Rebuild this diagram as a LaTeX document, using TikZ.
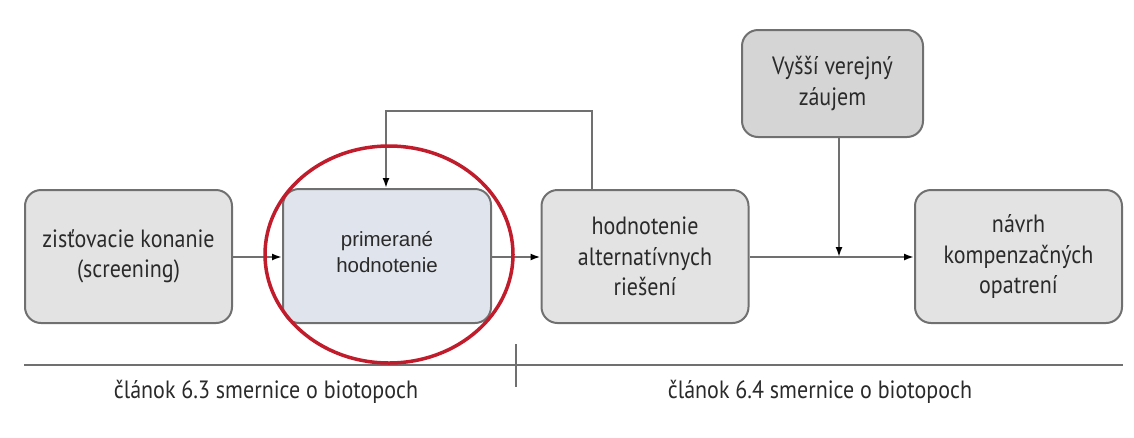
\documentclass[tikz,border=0pt]{standalone}
\usepackage{fontspec}
\setmainfont{PT Sans}[FakeStretch=0.88]
\newfontfamily\arialf{Liberation Sans}
\usetikzlibrary{arrows.meta}
\definecolor{boxfill}{HTML}{E3E3E3}
\definecolor{boxfillb}{HTML}{E0E4EC}
\definecolor{boxfilld}{HTML}{D5D5D5}
\definecolor{edge}{HTML}{707070}
\definecolor{txt}{HTML}{2A2A2A}
\definecolor{ringred}{HTML}{C01C2C}
\tikzset{
  proc/.style={draw=edge, line width=2pt, rounded corners=16pt, fill=boxfill,
    minimum width=207pt, minimum height=133pt, align=center, text=txt,
    font=\fontsize{25}{30.5}\selectfont, inner sep=0pt},
  conn/.style={draw=edge, line width=1.8pt},
  arr/.style={conn, -{Latex[length=10pt,width=7pt,fill=black,color=black]}},
  note/.style={text=txt, font=\fontsize{25}{26}\selectfont, inner sep=0pt}
}
\begin{document}
\begin{tikzpicture}[x=1pt,y=-1pt]
\useasboundingbox (0,0) rectangle (1134,437);
\node[proc] (b1) at (128.5,256.5) {zisťovacie konanie\\(screening)};
\node[proc, fill=boxfillb, minimum width=208pt, minimum height=134pt,
      label={[name=b2t, align=center, text=txt, inner sep=0pt, yshift=4pt,
              font=\arialf\fontsize{20.5}{26}\selectfont]center:primerané\\hodnotenie}] (b2) at (387,256) {};
\node[proc] (b3) at (645,256.5) {hodnotenie\\alternatívnych\\riešení};
\node[proc, fill=boxfilld, minimum width=181pt, minimum height=107pt] (b4) at (832.5,83.5) {Vyšší verejný\\záujem};
\node[proc] (b5) at (1018.5,256.5) {návrh\\kompenzačných\\opatrení};
\coordinate (j) at (839,257);
\coordinate (fbR) at (592,111);
\coordinate (fbL) at (386,111);
\draw[arr] (b1.east |- 0,257) -- (b2.west |- 0,257);
\draw[arr] (b2.east |- 0,257) -- (b3.west |- 0,257);
\draw[arr] (b3.east |- 0,257) -- (b5.west |- 0,257);
\draw[arr] (b4.south -| j) -- (j);
\draw[arr] (b3.north -| fbR) -- (fbR) -- (fbL) -- (b2.north -| fbL);
\coordinate (lineL) at (24,365);
\coordinate (lineR) at (1123,365);
\coordinate (tickT) at (516,344);
\coordinate (tickB) at (516,387);
\draw[conn, line width=2.2pt] (lineL) -- (lineR);
\draw[conn, line width=1.4pt] (tickT) -- (tickB);
\node[note] (t1) at (266,392) {článok 6.3 smernice o biotopoch};
\node[note] (t2) at (820,392) {článok 6.4 smernice o biotopoch};
\draw[ringred, line width=3.5pt] (389,254.5) ellipse [x radius=124, y radius=108.5];
\end{tikzpicture}
\end{document}
